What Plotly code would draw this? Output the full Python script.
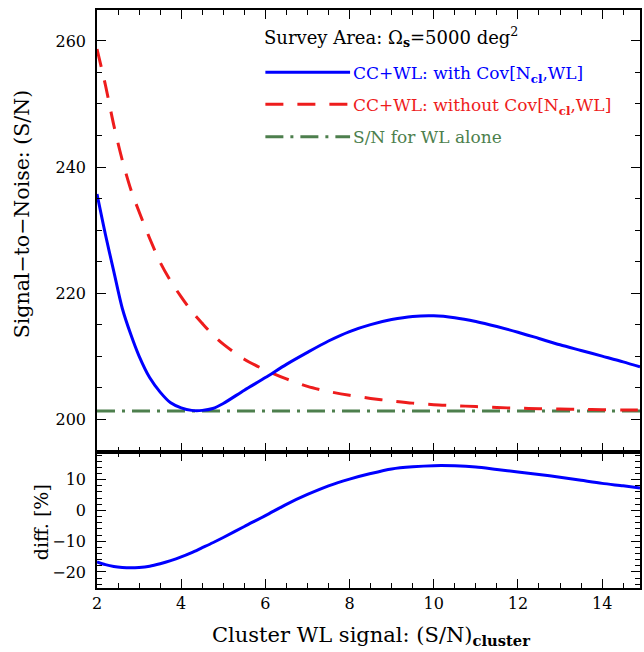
import plotly.graph_objects as go

# ---- data ----
x_sn = [2.0, 2.2, 2.4, 2.6, 2.8, 3.0, 3.25, 3.5, 3.75, 4.0, 4.25, 4.5, 4.75, 5.0,
        5.5, 6.0, 6.5, 7.0, 7.5, 8.0, 8.5, 9.0, 9.5, 10.0, 10.5, 11.0, 11.5, 12.0,
        12.5, 13.0, 13.5, 14.0, 14.5, 14.9]
sn_with_cov = [235.7, 229.3, 223.4, 217.6, 213.5, 210.0, 206.6, 204.3, 202.6, 201.8,
               201.4, 201.4, 201.7, 202.5, 204.6, 206.6, 208.7, 210.6, 212.4, 213.9,
               215.0, 215.8, 216.3, 216.4, 216.1, 215.5, 214.7, 213.8, 212.8, 211.8,
               210.9, 210.0, 209.1, 208.3]
sn_without_cov = [258.7, 253.0, 246.6, 241.1, 236.5, 232.9, 228.7, 224.9, 221.9, 219.4,
                  217.1, 215.2, 213.4, 211.9, 209.5, 207.8, 206.4, 205.2, 204.4, 203.8,
                  203.3, 202.9, 202.55, 202.3, 202.15, 202.0, 201.85, 201.75, 201.65,
                  201.6, 201.55, 201.5, 201.45, 201.45]
x_wl = [2.0, 14.9]
sn_wl_alone = [201.3, 201.3]
diff_pct = [-16.7, -17.6, -18.2, -18.5, -18.6, -18.5, -18.1, -17.3, -16.3, -15.1,
            -13.7, -12.1, -10.5, -8.8, -5.2, -1.7, 2.0, 5.2, 8.0, 10.2, 12.0, 13.5,
            14.2, 14.55, 14.5, 14.1, 13.3, 12.5, 11.7, 10.8, 9.8, 8.8, 8.0, 7.3]

x_ticks = [2, 4, 6, 8, 10, 12, 14]

BLUE = "#0000ff"
RED = "#ee1c1c"
GREEN = "#4d7f4d"
FONT = "DejaVu Serif"
RED_DASH = "18px,14px"
GREEN_DASH = "18px,7px,3px,7px"

fig = go.Figure()
fig.add_trace(go.Scatter(x=x_wl, y=sn_wl_alone, mode="lines", xaxis="x2", yaxis="y2",
                         line=dict(color=GREEN, width=3, dash=GREEN_DASH)))
fig.add_trace(go.Scatter(x=x_sn, y=sn_without_cov, mode="lines", xaxis="x2", yaxis="y2",
                         line=dict(color=RED, width=3, dash=RED_DASH, shape="spline", smoothing=0.8)))
fig.add_trace(go.Scatter(x=x_sn, y=sn_with_cov, mode="lines", xaxis="x2", yaxis="y2",
                         line=dict(color=BLUE, width=3, shape="spline", smoothing=0.8)))
fig.add_trace(go.Scatter(x=x_sn, y=diff_pct, mode="lines", xaxis="x", yaxis="y",
                         line=dict(color=BLUE, width=3, shape="spline", smoothing=0.8)))

common = dict(showline=True, linecolor="black", linewidth=1.6, mirror="allticks",
              ticks="inside", tickcolor="black", tickwidth=1.3, ticklen=9,
              showgrid=False, zeroline=False,
              tickfont=dict(family=FONT, size=16, color="black"))
minor_common = dict(ticks="inside", ticklen=5, tickwidth=1.2, tickcolor="black")

W, H = 644, 652
L, R, T, B = 97, 2, 10, 64

fig.update_layout(
    width=W, height=H,
    margin=dict(l=L, r=R, t=T, b=B),
    paper_bgcolor="white", plot_bgcolor="white",
    showlegend=False,
    xaxis=dict(range=[2, 14.9], tickvals=x_ticks, anchor="y",
               minor=dict(dtick=0.5, tick0=2, **minor_common), **common),
    xaxis2=dict(range=[2, 14.9], tickvals=x_ticks, anchor="y2", matches="x", showticklabels=False,
                minor=dict(dtick=0.5, tick0=2, **minor_common), **common),
    yaxis=dict(domain=[0, 0.2353], range=[-25.2, 19], dtick=10, tick0=0, anchor="x",
               ticklabelstandoff=6, minor=dict(dtick=2, tick0=0, **minor_common), **common),
    yaxis2=dict(domain=[0.2353, 1], range=[194.8, 264.9], dtick=20, tick0=200, anchor="x2",
                ticklabelstandoff=6, minor=dict(dtick=5, tick0=200, **minor_common), **common),
)

PW = W - L - R
PH = H - T - B

def px(xw):
    # window pixel -> paper fraction
    return (xw - L) / PW

def py(yw):
    return (H - B - yw) / PH

# legend samples
fig.add_shape(type="line", xref="paper", yref="paper", x0=px(266), x1=px(351), y0=py(72.3), y1=py(72.3),
              line=dict(color=BLUE, width=3))
fig.add_shape(type="line", xref="paper", yref="paper", x0=px(266), x1=px(351), y0=py(104.3), y1=py(104.3),
              line=dict(color=RED, width=3, dash=RED_DASH))
fig.add_shape(type="line", xref="paper", yref="paper", x0=px(266), x1=px(351), y0=py(136.7), y1=py(136.7),
              line=dict(color=GREEN, width=3, dash=GREEN_DASH))

def ann(text, x, y, size, color="black", xanchor="left", angle=0):
    fig.add_annotation(text=text, xref="paper", yref="paper", x=x, y=y, showarrow=False,
                       xanchor=xanchor, yanchor="middle", textangle=angle,
                       font=dict(family=FONT, size=size, color=color))

ann("Survey Area: Ω<sub><b>s</b></sub>=5000 deg<sup>2</sup>", px(263), py(37), 18)
ann("CC+WL: with Cov[N<sub><b>cl</b></sub>,WL]", px(352), py(75), 17, BLUE)
ann("CC+WL: without Cov[N<sub><b>cl</b></sub>,WL]", px(352), py(106), 17, RED)
ann("S/N for WL alone", px(352), py(137), 17, GREEN)

ann("Signal−to−Noise: (S/N)", px(22), py(214), 20.5, xanchor="center", angle=-90)
ann("diff. [%]", px(41), py(522), 19, xanchor="center", angle=-90)
ann("Cluster WL signal: (S/N)<sub><b>cluster</b></sub>", px(372), py(636), 21, xanchor="center")

fig.write_html("out.html", config={"displayModeBar": False},
               post_script="document.body.style.margin='0';document.body.style.overflow='hidden';")
